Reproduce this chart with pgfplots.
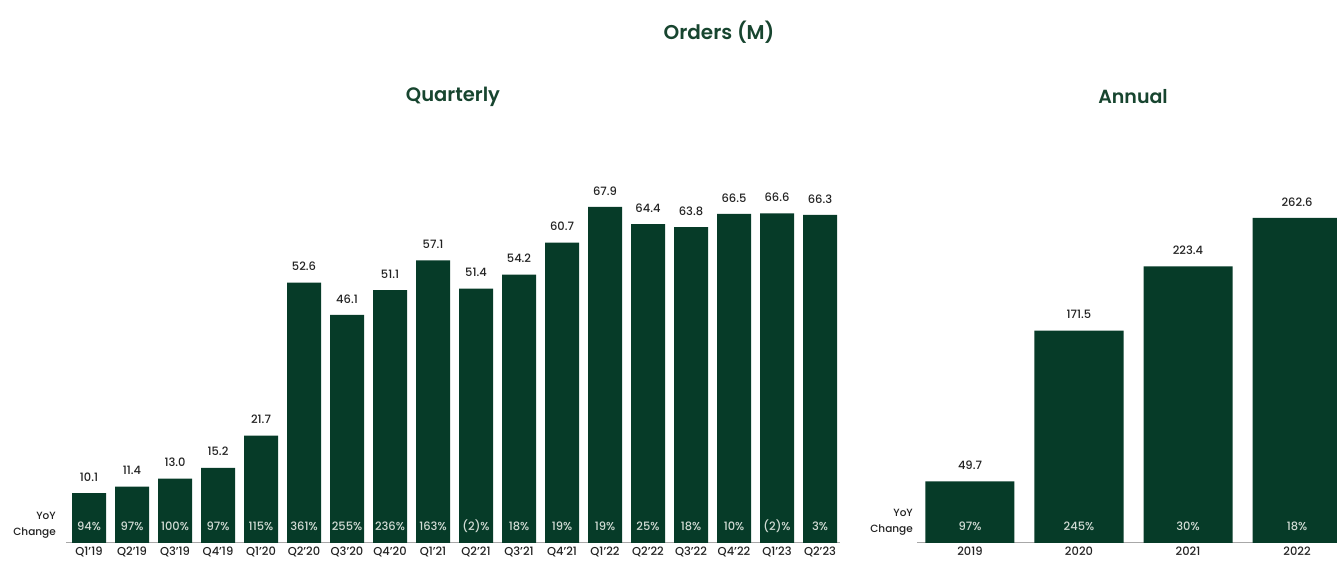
\documentclass[border=0pt]{standalone}
\usepackage{fontspec}
\IfFontExistsTF{Poppins Medium}{%
  \IfFontExistsTF{Poppins SemiBold}{%
    \setmainfont{Poppins Medium}[BoldFont={Poppins SemiBold}]}{%
    \setmainfont{Poppins Medium}[BoldFont={Poppins Bold}]}}{%
  \setmainfont{Poppins}}
\usepackage{pgfplots}
\pgfplotsset{compat=1.18}
\definecolor{barcol}{HTML}{063B28}
\definecolor{titlecol}{HTML}{17452F}
\definecolor{txtcol}{HTML}{222222}
\definecolor{pctcol}{HTML}{D2DCD5}
\definecolor{axcol}{HTML}{A8A8A8}
\begin{document}
\begin{tikzpicture}[x=1pt,y=1pt]
\path[use as bounding box] (0,0) rectangle (1337,561);
\pgfplotsset{
  myaxis/.style={
    scale only axis, height=393pt,
    ymin=0, enlargelimits=false, clip=false,
    axis x line*=bottom, axis y line=none,
    x axis line style={draw=axcol, line width=1pt, -},
    xtick=data, major tick length=0pt,
    xticklabel style={font=\fontsize{11.5}{13}\selectfont, text=txtcol, yshift=-0.5pt},
    /pgf/number format/assume math mode=true,
  },
  valbars/.style={ybar, fill=barcol, draw=none,
    nodes near coords={\pgfmathprintnumber[fixed,precision=1,zerofill]{\pgfplotspointmeta}},
    every node near coord/.append style={anchor=south, inner sep=0pt, yshift=11.5pt,
      font=\fontsize{11.5}{13}\selectfont, text=txtcol}},
  pcts/.style={draw=none, mark=none, point meta=explicit symbolic,
    nodes near coords={\pgfplotspointmeta\%},
    every node near coord/.append style={anchor=center, inner sep=0pt, yshift=0pt,
      font=\fontsize{11.5}{13}\selectfont, text=pctcol}},
}
% Quarterly
\begin{axis}[myaxis, at={(66pt,18pt)}, anchor=south west, width=774pt,
  xmin=-0.535, xmax=17.465, ymax=79.4,
  xticklabels={Q1'19,Q2'19,Q3'19,Q4'19,Q1'20,Q2'20,Q3'20,Q4'20,Q1'21,Q2'21,Q3'21,Q4'21,Q1'22,Q2'22,Q3'22,Q4'22,Q1'23,Q2'23}]
\addplot[valbars, bar width=34pt] table[x=x,y=y] {
x y
0 10.1
1 11.4
2 13.0
3 15.2
4 21.7
5 52.6
6 46.1
7 51.1
8 57.1
9 51.4
10 54.2
11 60.7
12 67.9
13 64.4
14 63.8
15 66.5
16 66.6
17 66.3
};
\addplot[pcts] table[x=x,y=y,meta=m] {
x y m
0 3.43 94
1 3.43 97
2 3.43 100
3 3.43 97
4 3.43 115
5 3.43 361
6 3.43 255
7 3.43 236
8 3.43 163
9 3.43 (2)
10 3.43 18
11 3.43 19
12 3.43 19
13 3.43 25
14 3.43 18
15 3.43 10
16 3.43 (2)
17 3.43 3
};
\end{axis}
% Annual
\begin{axis}[myaxis, at={(917pt,18pt)}, anchor=south west, width=420pt,
  xmin=-0.486, xmax=3.367, ymax=317.5,
  xticklabels={2019,2020,2021,2022}]
\addplot[valbars, bar width=89pt] table[x=x,y=y] {
x y
0 49.7
1 171.5
2 223.4
3 262.6
};
\addplot[pcts] table[x=x,y=y,meta=m] {
x y m
0 13.7 97
1 13.7 245
2 13.7 30
3 13.7 18
};
\end{axis}
% Titles
\node[font=\fontsize{20}{24}\selectfont\bfseries, text=titlecol] at (719,529) {Orders (M)};
\node[font=\fontsize{19.5}{23}\selectfont\bfseries, text=titlecol] at (453,464) {Quarterly};
\node[font=\fontsize{19}{23}\selectfont\bfseries, text=titlecol] at (1133,464) {Annual};
% YoY Change labels
\node[anchor=east, inner sep=0pt, font=\fontsize{10.5}{12}\selectfont, text=txtcol] at (56,45) {YoY};
\node[anchor=east, inner sep=0pt, font=\fontsize{10.5}{12}\selectfont, text=txtcol] at (56,28) {Change};
\node[anchor=east, inner sep=0pt, font=\fontsize{10.5}{12}\selectfont, text=txtcol] at (913,48) {YoY};
\node[anchor=east, inner sep=0pt, font=\fontsize{10.5}{12}\selectfont, text=txtcol] at (913,31) {Change};
\end{tikzpicture}
\end{document}
